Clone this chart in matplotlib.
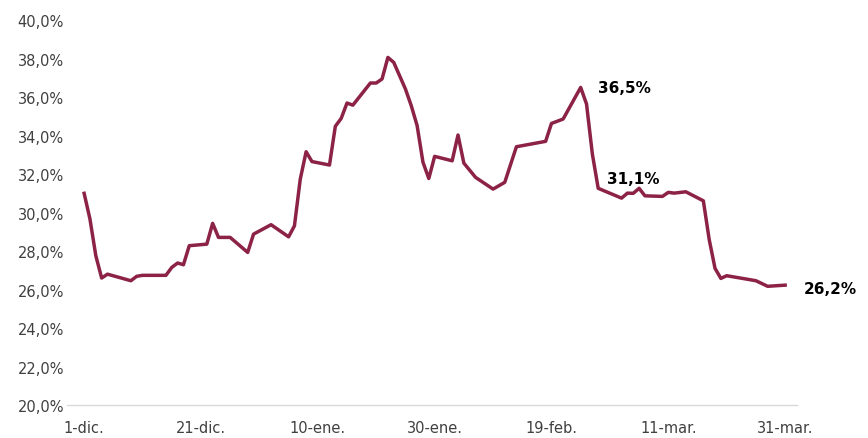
import pandas as pd
import matplotlib
matplotlib.use("Agg")
import matplotlib.pyplot as plt
from matplotlib.ticker import FuncFormatter

# Serie (lectura aproximada del gráfico)
fechas = [
    "2020-12-01", "2020-12-02", "2020-12-03", "2020-12-04", "2020-12-05",
    "2020-12-09", "2020-12-10", "2020-12-11", "2020-12-15", "2020-12-16",
    "2020-12-17", "2020-12-18", "2020-12-19", "2020-12-22", "2020-12-23",
    "2020-12-24", "2020-12-26", "2020-12-29", "2020-12-30", "2021-01-02",
    "2021-01-05", "2021-01-06", "2021-01-07", "2021-01-08", "2021-01-09",
    "2021-01-12", "2021-01-13", "2021-01-14", "2021-01-15", "2021-01-16",
    "2021-01-19", "2021-01-20", "2021-01-21", "2021-01-22", "2021-01-23",
    "2021-01-25", "2021-01-26", "2021-01-27", "2021-01-28", "2021-01-29",
    "2021-01-30", "2021-02-02", "2021-02-03", "2021-02-04", "2021-02-06",
    "2021-02-09", "2021-02-11", "2021-02-13", "2021-02-18", "2021-02-19",
    "2021-02-21", "2021-02-24", "2021-02-25", "2021-02-26", "2021-02-27",
    "2021-03-03", "2021-03-04", "2021-03-05", "2021-03-06", "2021-03-07",
    "2021-03-10", "2021-03-11", "2021-03-12", "2021-03-14", "2021-03-17",
    "2021-03-18", "2021-03-19", "2021-03-20", "2021-03-21", "2021-03-26",
    "2021-03-28", "2021-03-31",
]
valores = [
    31.0, 29.66, 27.76, 26.6, 26.8,
    26.46, 26.69, 26.74, 26.74, 27.15,
    27.38, 27.29, 28.28, 28.36, 29.44,
    28.71, 28.71, 27.93, 28.88, 29.37,
    28.74, 29.31, 31.74, 33.16, 32.65,
    32.47, 34.48, 34.89, 35.69, 35.58,
    36.73, 36.73, 36.94, 38.06, 37.8,
    36.42, 35.55, 34.52, 32.62, 31.77,
    32.92, 32.69, 34.03, 32.57, 31.83,
    31.22, 31.57, 33.42, 33.7, 34.63,
    34.86, 36.5, 35.64, 33.04, 31.26,
    30.75, 31.01, 31.0, 31.26, 30.87,
    30.84, 31.05, 31.01, 31.08, 30.61,
    28.6, 27.1, 26.58, 26.72, 26.46,
    26.17, 26.23,
]

tick_fechas = ["2020-12-01", "2020-12-21", "2021-01-10", "2021-01-30",
               "2021-02-19", "2021-03-11", "2021-03-31"]
tick_labels = ["1-dic.", "21-dic.", "10-ene.", "30-ene.", "19-feb.", "11-mar.", "31-mar."]

etiquetas = [("2021-02-24", 36.5, "36,5%", 3.0, 0.0),
             ("2021-02-27", 31.1, "31,1%", 1.5, 0.65),
             ("2021-03-31", 26.2, "26,2%", 3.2, -0.12)]

x = pd.to_datetime(fechas)

fig = plt.figure(figsize=(8.68, 4.39), dpi=100)
ax = fig.add_axes([0.077, 0.075, 0.841, 0.877])

ax.plot(x, valores, color="#8C2347", lw=2.5, solid_joinstyle="round")

for f, v, txt, dx, dy in etiquetas:
    ax.text(pd.Timestamp(f) + pd.Timedelta(days=dx), v + dy, txt,
            fontsize=11, fontweight="bold", color="black",
            va="center", ha="left", clip_on=False)

ax.set_ylim(20, 40)
ax.set_yticks(range(20, 41, 2))
ax.yaxis.set_major_formatter(FuncFormatter(lambda v, p: f"{v:.1f}%".replace(".", ",")))
ax.set_xlim(pd.Timestamp("2020-12-01") - pd.Timedelta(days=2.96),
            pd.Timestamp("2020-12-01") + pd.Timedelta(days=122))
ax.set_xticks(pd.to_datetime(tick_fechas))
ax.set_xticklabels(tick_labels)

for s in ["top", "right", "left"]:
    ax.spines[s].set_visible(False)
ax.spines["bottom"].set_color("#d9d9d9")
ax.spines["bottom"].set_linewidth(1)
ax.tick_params(axis="both", length=0, labelsize=10.5, labelcolor="#404040")
ax.tick_params(axis="y", pad=2)
ax.tick_params(axis="x", pad=11)

fig.savefig("out.png", dpi=100)
